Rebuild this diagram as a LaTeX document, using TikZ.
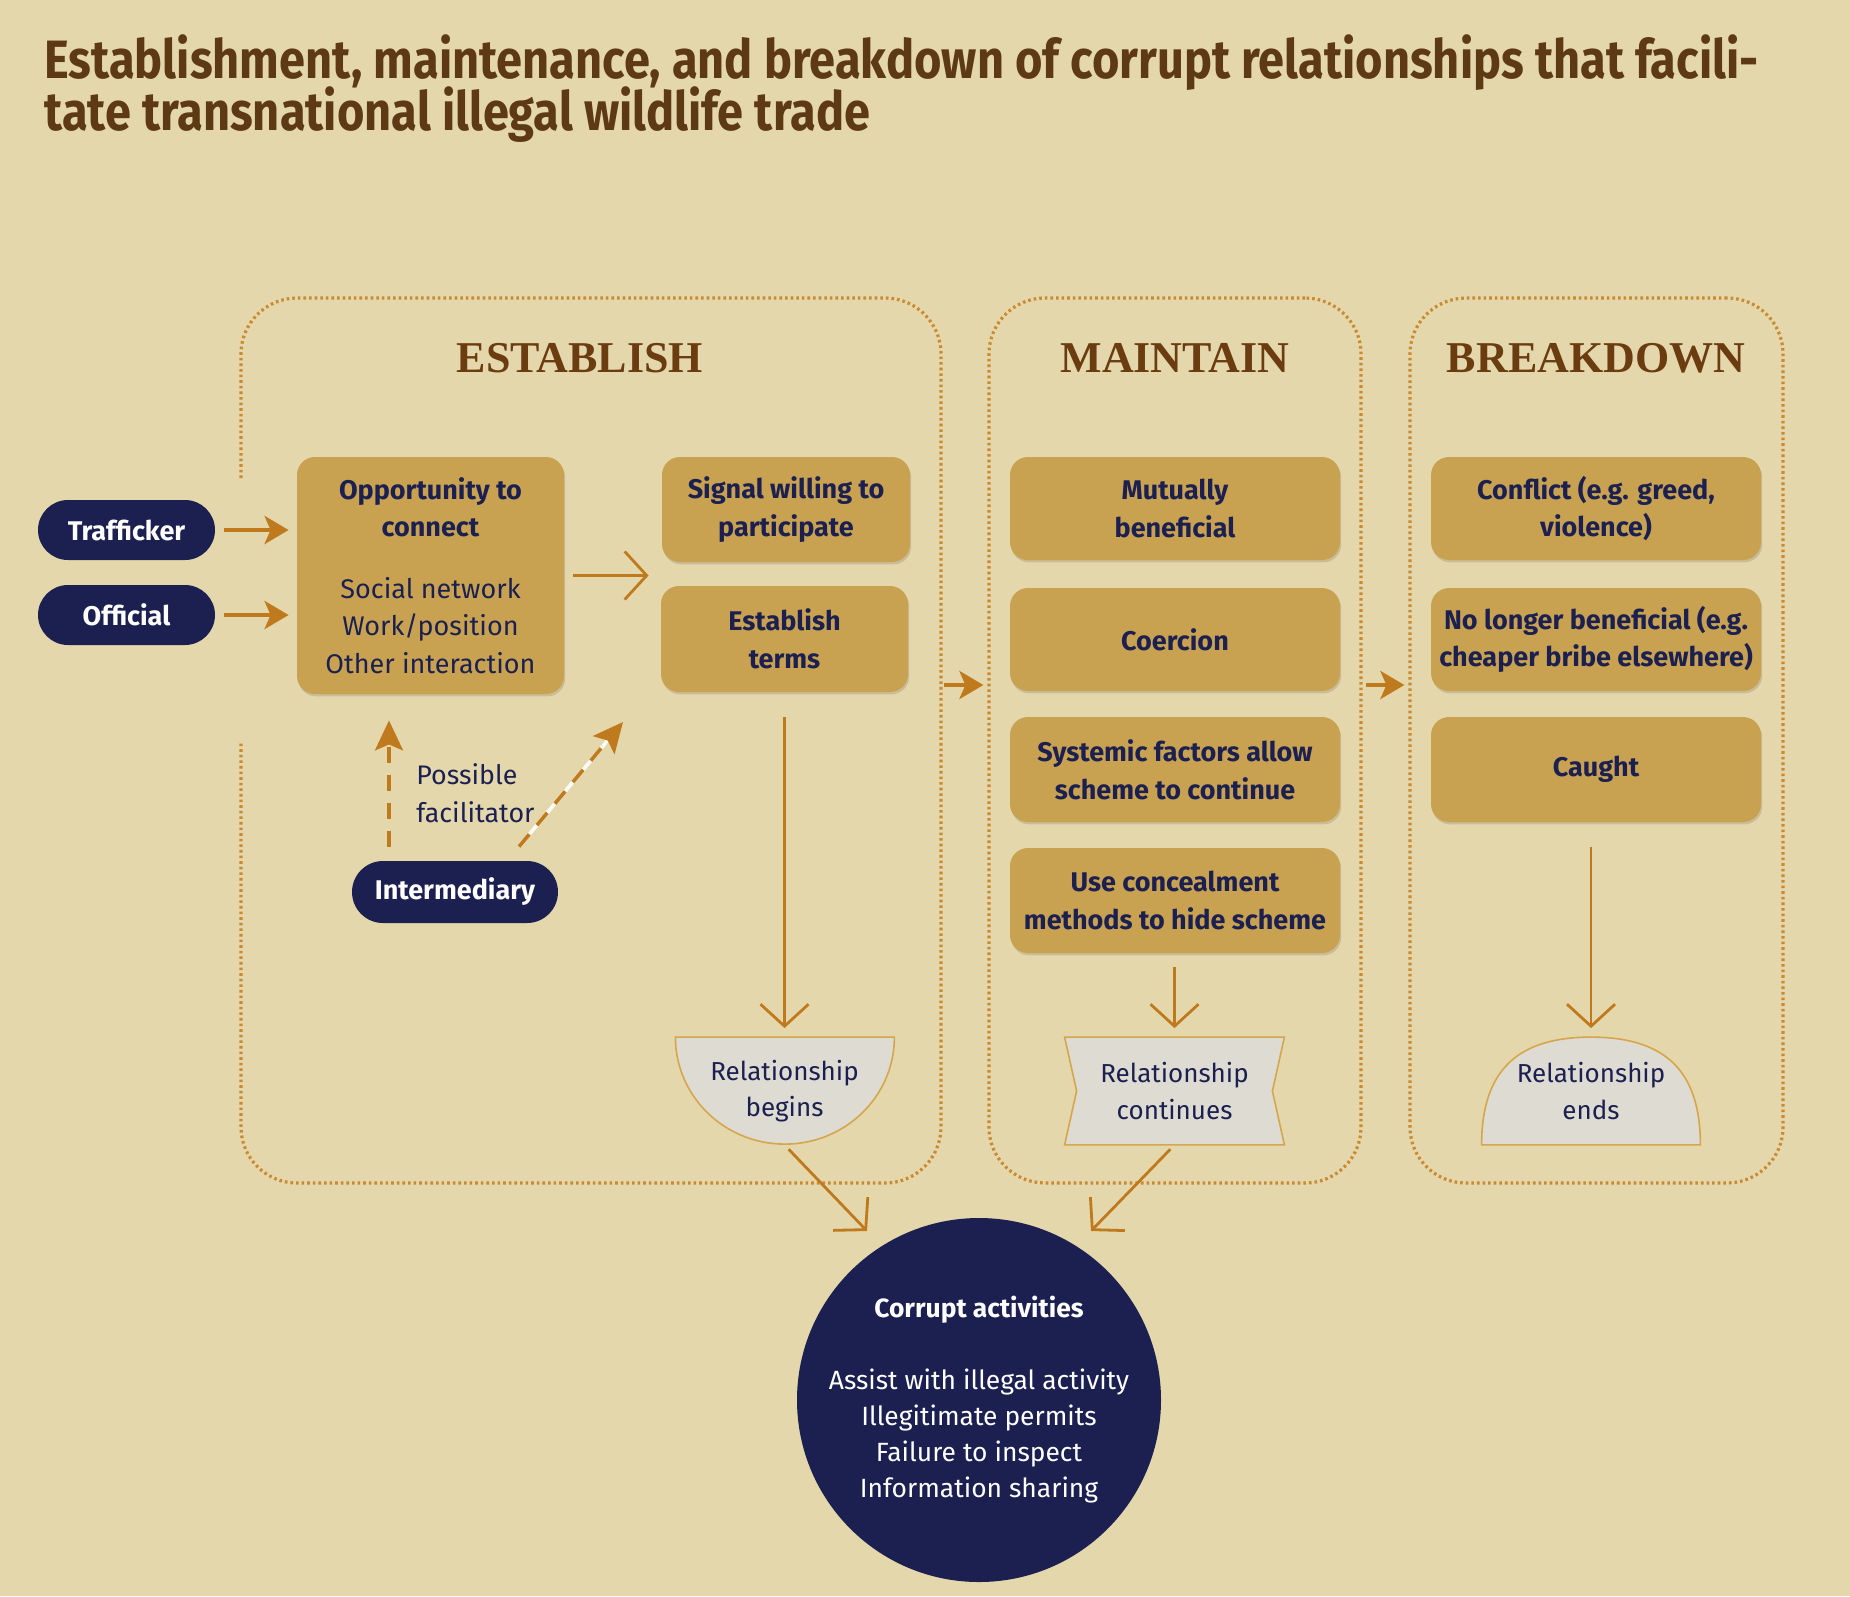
\documentclass[tikz,border=0pt]{standalone}
\usepackage{fontspec}
\setmainfont{Fira Sans}
\newfontfamily\titlefont[FakeStretch=0.87]{Fira Sans}
\newfontfamily\headfont{Liberation Serif}
\usetikzlibrary{arrows.meta,shadows}
\definecolor{bgc}{HTML}{E5D7AC}
\definecolor{gold}{HTML}{C8A250}
\definecolor{navy}{HTML}{1B2050}
\definecolor{arr}{HTML}{C07A1E}
\definecolor{dotc}{HTML}{C98A30}
\definecolor{headc}{HTML}{6A3C10}
\definecolor{titlec}{HTML}{5E3A14}
\definecolor{lightg}{HTML}{DEDBD2}
\definecolor{shapeline}{HTML}{D6A64C}
\pgfdeclarelayer{back}
\pgfdeclarelayer{shapes}
\pgfsetlayers{back,shapes,main}
\begin{document}
\begin{tikzpicture}[x=0.5pt,y=-0.5pt,
  goldbox/.style={fill=gold, rounded corners=9pt, text=navy, align=center,
    font=\bfseries\fontsize{13.5}{18.8}\selectfont, inner sep=0pt,
    general shadow={fill=black, opacity=0.12, shadow xshift=0.6pt, shadow yshift=-1.2pt}},
  pill/.style={fill=navy, rounded corners=15pt, text=white, inner sep=0pt,
    font=\bfseries\fontsize{13.5}{16}\selectfont, minimum width=88.5pt, minimum height=30pt},
  lighttext/.style={text=navy, align=center, font=\fontsize{13}{18.3}\selectfont,
    minimum width=109.5pt, minimum height=53.5pt, inner sep=0pt},
  relshape/.style={fill=lightg, draw=shapeline, line width=0.8pt},
  panelline/.style={draw=dotc, line width=1.6pt, dash pattern=on 1.3pt off 1.5pt, rounded corners=28pt},
  headstyle/.style={text=headc, font=\headfont\bfseries\fontsize{22}{24}\selectfont, inner sep=0pt},
  farrow/.style={draw=arr, line width=2.2pt, -{Stealth[length=12pt,width=14pt,inset=3pt]}},
  varrow/.style={draw=arr, line width=1.4pt, -{Straight Barb[length=11pt,width=24pt]}},
  dasharrow/.style={draw=arr, line width=1.8pt, dash pattern=on 8pt off 6pt,
    -{Stealth[length=15pt,width=14pt,inset=3pt]}}
]
\begin{pgfonlayer}{back}
\fill[bgc] (0,0) rectangle (1850,1596);
\end{pgfonlayer}
\useasboundingbox (0,0) rectangle (1850,1596);

% title
\node[anchor=base west, text=titlec, font=\titlefont\bfseries\fontsize{27}{26}\selectfont, inner sep=0pt] (t1) at (44,78)
  {Establishment, maintenance, and breakdown of corrupt relationships that facili-};
\node[anchor=base west, text=titlec, font=\titlefont\bfseries\fontsize{27}{26}\selectfont, inner sep=0pt] (t2) at (44,130)
  {tate transnational illegal wildlife trade};

% panels
\draw[panelline] (241,478) -- (241,298) -- (941,298) -- (941,1183) -- (241,1183) -- (241,743);
\node[panelline, minimum width=186pt, minimum height=442.5pt, inner sep=0pt] (pm) at (1175,740.5) {};
\node[panelline, minimum width=186.5pt, minimum height=442.5pt, inner sep=0pt] (pb) at (1596.5,740.5) {};
\coordinate (pe) at (941,685);

\node[headstyle, anchor=base] (he) at (580,372) {ESTABLISH};
\node[headstyle, anchor=base] (hm) at (1175,372) {MAINTAIN};
\node[headstyle, anchor=base] (hb) at (1596,372) {BREAKDOWN};

% actors
\node[pill] (tr) at (126.5,530) {Trafficker};
\node[pill] (of) at (126.5,615) {Official};
\node[pill, minimum width=103pt, minimum height=31pt, rounded corners=15.5pt] (in) at (455,892) {Intermediary};

% establish boxes
\node[goldbox, minimum width=133.5pt, minimum height=118.5pt] (opp) at (430.5,575.5)
  {Opportunity to\\connect\\[12pt]\mdseries Social network\\\mdseries Work/position\\\mdseries Other interaction};
\node[goldbox, minimum width=124pt, minimum height=52.5pt] (sig) at (786,509.5) {Signal willing to\\participate};
\node[goldbox, minimum width=123.5pt, minimum height=53pt] (et) at (784.5,639) {Establish\\terms};

% maintain boxes
\node[goldbox, minimum width=165pt, minimum height=51.5pt] (mb) at (1175,508.5) {Mutually\\beneficial};
\node[goldbox, minimum width=165pt, minimum height=51.5pt] (co) at (1175,639.5) {Coercion};
\node[goldbox, minimum width=165pt, minimum height=52.5pt] (sy) at (1175,769.5) {Systemic factors allow\\scheme to continue};
\node[goldbox, minimum width=165pt, minimum height=52.5pt] (cn) at (1175,900.5) {Use concealment\\methods to hide scheme};

% breakdown boxes
\node[goldbox, minimum width=165pt, minimum height=51.5pt] (cf) at (1596,508.5) {Conflict (e.g. greed,\\violence)};
\node[goldbox, minimum width=165pt, minimum height=51.5pt] (nl) at (1596,639.5) {No longer beneficial (e.g.\\cheaper bribe elsewhere)};
\node[goldbox, minimum width=165pt, minimum height=52.5pt] (cg) at (1596,769.5) {Caught};

% relationship shapes
\node[lighttext] (rb) at (784.5,1091) {Relationship\\begins};
\node[lighttext] (rc) at (1174.5,1091) {Relationship\\continues};
\node[lighttext, minimum width=109pt] (re) at (1591,1091) {Relationship\\ends};
\begin{pgfonlayer}{shapes}
\draw[relshape] (rb.north west) -- (rb.north east)
  arc[start angle=0, end angle=-180, x radius=54.75pt, y radius=53.5pt] -- cycle;
\draw[relshape] (rc.north west) -- (rc.north east) -- ([xshift=-6pt]rc.east) -- (rc.south east)
  -- (rc.south west) -- ([xshift=6pt]rc.west) -- cycle;
\draw[relshape] (re.south west) .. controls +(0,38pt) and +(-36pt,0) .. (re.north)
  .. controls +(36pt,0) and +(0,38pt) .. (re.south east) -- cycle;
\end{pgfonlayer}

% corrupt activities
\node[circle, fill=navy, minimum size=182pt, inner sep=-40pt, text=white, align=center,
  font=\fontsize{13.2}{18}\selectfont] (ca) at (979,1400)
  {\textbf{Corrupt activities}\\[18pt]Assist with illegal activity\\Illegitimate permits\\Failure to inspect\\Information sharing};
\coordinate (ca1) at (867,1231);
\coordinate (ca2) at (1091,1231);

% facilitator label
\node[anchor=west, text=navy, align=left, font=\fontsize{13.4}{19}\selectfont, inner sep=0pt] (pf) at (416,793)
  {Possible\\facilitator};
\coordinate (fe) at (623,722);

% connectors
\draw[farrow, shorten <=4.5pt, shorten >=4pt] (tr.east) -- (tr.east -| opp.west);
\draw[farrow, shorten <=4.5pt, shorten >=4pt] (of.east) -- (of.east -| opp.west);
\draw[varrow, shorten <=4.5pt, shorten >=6pt] (opp.east) -- (opp.east -| et.west);
\draw[varrow, shorten <=12.5pt, shorten >=4.5pt] (et.south) -- (rb.north);
\draw[varrow, shorten <=7pt, shorten >=4.5pt] (rc.north |- cn.south) -- (rc.north);
\draw[varrow, shorten <=12.5pt, shorten >=4.5pt] (re.north |- cg.south) -- (re.north);
\draw[varrow, shorten <=3pt] (rb.south) -- (ca1);
\draw[varrow, shorten <=3pt] (rc.south) -- (ca2);
\draw[farrow, line width=2pt, shorten <=1.5pt, shorten >=2pt] (pe) -- ([yshift=27.75pt]pm.west);
\draw[farrow, line width=2pt, shorten <=1.5pt, shorten >=2pt] ([yshift=27.75pt]pm.east) -- ([yshift=27.75pt]pb.west);
\draw[dasharrow, shorten <=7pt, shorten >=13pt] ([xshift=-33pt]in.north) -- ([xshift=-33pt]in.north |- opp.south);
\draw[draw=white!90!bgc, line width=1.8pt, shorten >=10pt] ([xshift=32pt,yshift=7pt]in.north) -- (fe);
\draw[dasharrow] ([xshift=32pt,yshift=7pt]in.north) -- (fe);
\end{tikzpicture}
\end{document}
